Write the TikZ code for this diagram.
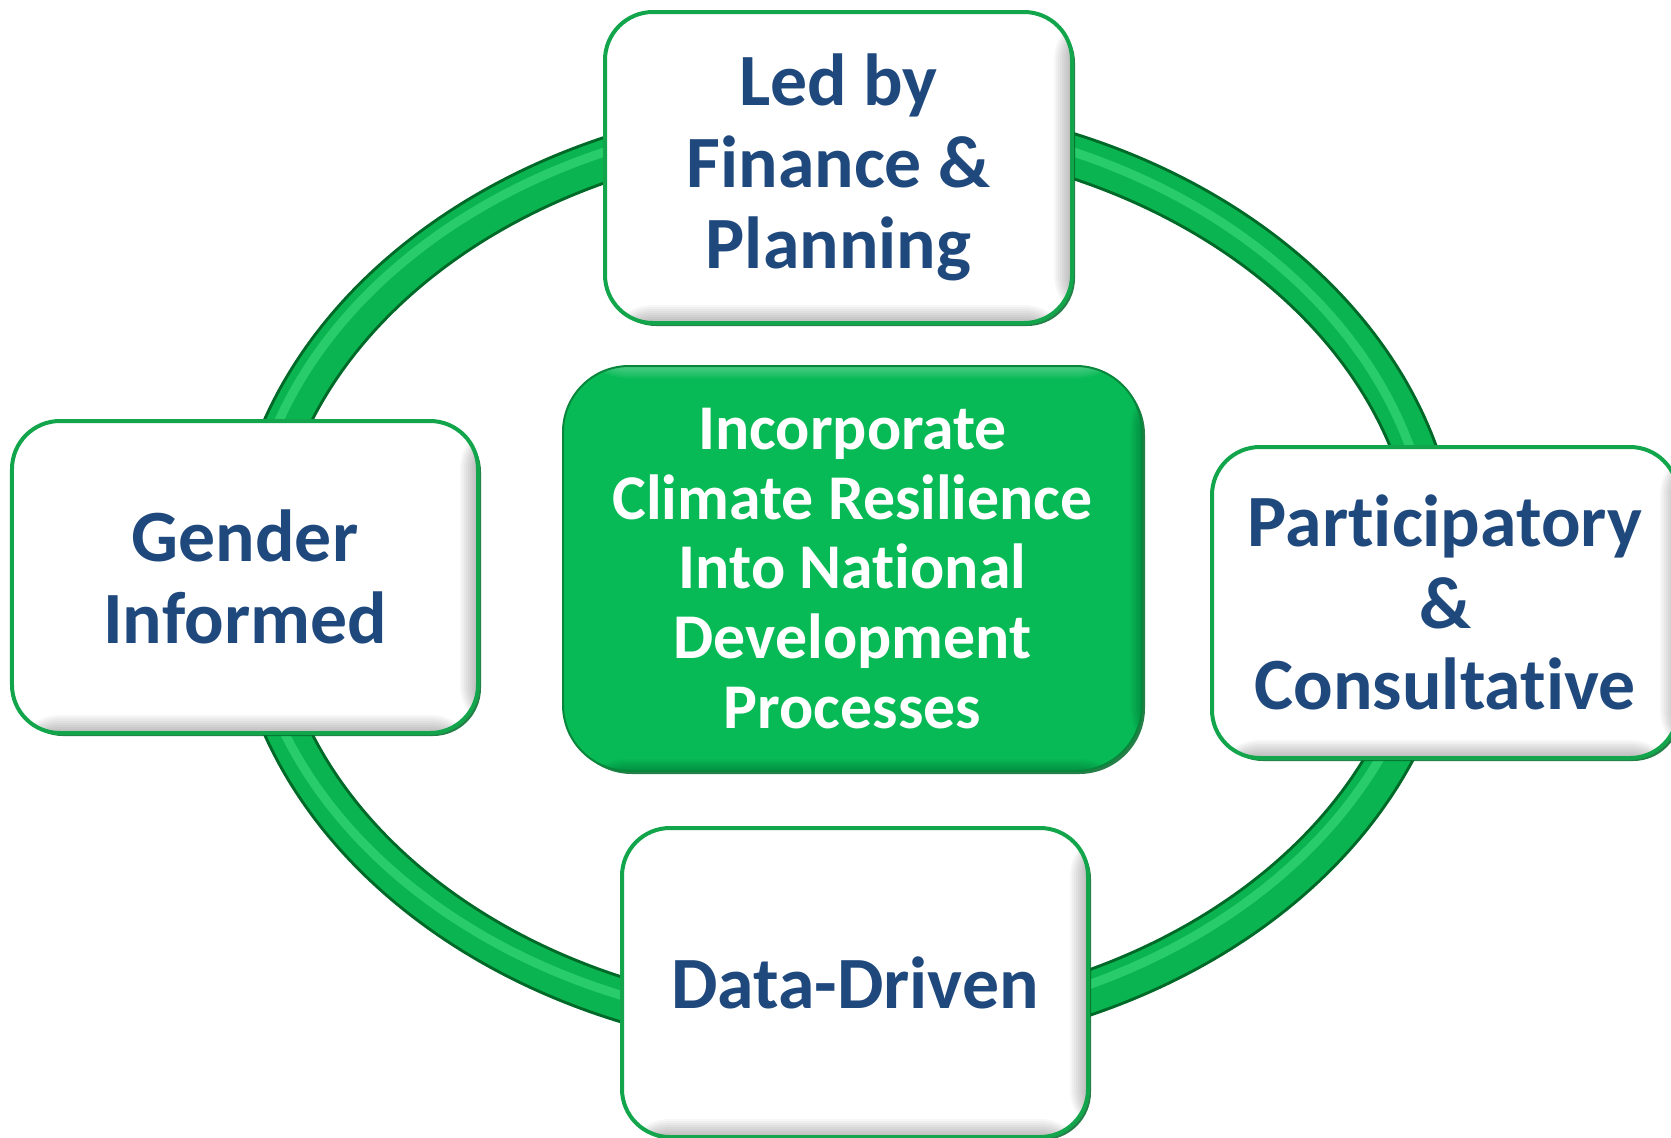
\documentclass[tikz,border=0pt]{standalone}
\usepackage{fontspec}
\setmainfont{Carlito}[Ligatures={NoCommon,NoRequired,NoContextual}]
\usetikzlibrary{shadows}
\definecolor{ringgreen}{RGB}{10,180,80}
\definecolor{ringdark}{RGB}{0,105,40}
\definecolor{ringlight}{RGB}{80,235,140}
\definecolor{boxgreen}{RGB}{8,186,86}
\definecolor{edgegreen}{RGB}{18,165,75}
\definecolor{txtblue}{RGB}{31,73,125}
\begin{document}
\begin{tikzpicture}[x=1bp,y=-1bp,
  innershade/.style={path picture={
    \foreach \k in {1,...,9}{
      \fill[black, opacity=0.03] ([xshift={-\k*2bp}]path picture bounding box.south east) rectangle (path picture bounding box.north east);
      \fill[black, opacity=0.03] ([yshift={\k*2bp}]path picture bounding box.south west) rectangle (path picture bounding box.south east);
    }}},
  coreshade/.style={path picture={
    \foreach \k in {1,...,6}{
      \fill[white, opacity=0.05] ([yshift={-\k*2bp}]path picture bounding box.north west) rectangle (path picture bounding box.north east);
      \fill[black, opacity=0.035] ([xshift={-\k*2bp}]path picture bounding box.south east) rectangle (path picture bounding box.north east);
      \fill[black, opacity=0.035] ([yshift={\k*2bp}]path picture bounding box.south west) rectangle (path picture bounding box.south east);
    }}},
  outerbox/.style={draw=edgegreen, line width=4bp, fill=white, rounded corners=48bp,
    text=txtblue, font=\fontsize{74}{82}\selectfont\bfseries, align=center, inner sep=0pt,
    innershade,
    drop shadow={shadow xshift=3bp, shadow yshift=-3bp, fill=ringdark, opacity=0.85}},
  corebox/.style={draw=ringgreen!75!black, line width=2bp, fill=boxgreen, rounded corners=66bp,
    text=white, font=\fontsize{64}{70}\selectfont\bfseries, align=center, inner sep=0pt,
    coreshade,
    drop shadow={shadow xshift=3bp, shadow yshift=-3bp, fill=ringdark, opacity=0.85}},
  ringbase/.style={draw=ringdark, line width=46bp},
  ringbody/.style={draw=ringgreen, line width=40bp},
  ringshine/.style={draw=ringlight, line width=9bp, opacity=0.45}]
\useasboundingbox (0,0) rectangle (1671,1137);
\clip (0,0) rectangle (1671,1137);
% ring
\path[ringbase] (845,577) ellipse [x radius=593, y radius=456];
\path[ringbody] (845,577) ellipse [x radius=593, y radius=456];
\path[ringshine] (839,571) ellipse [x radius=593, y radius=456];
% centre
\node[corebox, minimum width=579bp, minimum height=405bp] (core) at (852.5,568.5)
  {Incorporate\\Climate Resilience\\Into National\\Development\\Processes};
% outer boxes
\node[outerbox, minimum width=467bp, minimum height=311bp] (lead) at (838.5,167.5)
  {Led by\\Finance \&\\Planning};
\node[outerbox, minimum width=466bp, minimum height=312bp] (gender) at (245,577)
  {Gender\\Informed};
\node[outerbox, minimum width=466bp, minimum height=311bp] (partic) at (1445,602.5)
  {Participatory\\\&\\Consultative};
\node[outerbox, minimum width=466bp, minimum height=309bp] (data) at (855,982.5)
  {Data-Driven};
\end{tikzpicture}
\end{document}
